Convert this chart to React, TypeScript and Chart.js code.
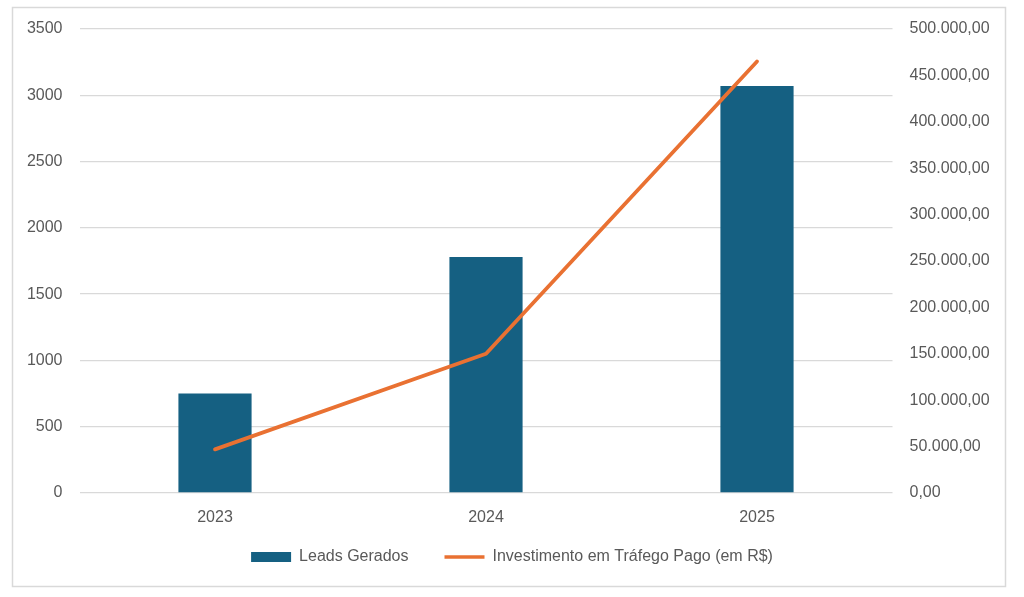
import React, { useEffect, useRef } from "react";
import { Chart, registerables } from "chart.js";

Chart.register(...registerables);

const categories = ["2023", "2024", "2025"];
const leadsGerados = [750, 1780, 3070];
const investimento = [47000, 150000, 465000];
const leftTicks = [0, 500, 1000, 1500, 2000, 2500, 3000, 3500];
const rightTicks = [0, 50000, 100000, 150000, 200000, 250000, 300000, 350000, 400000, 450000, 500000];

const BAR_COLOR = "#156082";
const LINE_COLOR = "#E97132";
const TEXT_COLOR = "#595959";
const GRID_COLOR = "#D9D9D9";
const FONT = "'Liberation Sans', Arial, sans-serif";
const LEGEND_PADDING = 36;
const LEGEND_CENTER_Y = 557;

function formatBR(v: number): string {
  const fixed = v.toFixed(2);
  const [intPart, dec] = fixed.split(".");
  const withDots = intPart.replace(/\B(?=(\d{3})+(?!\d))/g, ".");
  return withDots + "," + dec;
}

const borderPlugin = {
  id: "outerBorder",
  afterLayout(chart: any) {
    const lg = chart.legend;
    if (lg) {
      const h = lg.bottom - lg.top;
      lg.top = LEGEND_CENTER_Y - LEGEND_PADDING - 8;
      lg.bottom = lg.top + h;
    }
  },
  beforeDraw(chart: any) {
    const ctx = chart.ctx;
    ctx.save();
    ctx.fillStyle = "#ffffff";
    ctx.fillRect(0, 0, chart.width, chart.height);
    ctx.strokeStyle = GRID_COLOR;
    ctx.lineWidth = 1.5;
    ctx.strokeRect(12.5, 7.5, 993, 579);
    ctx.restore();
  },
};

export default function App() {
  const ref = useRef<HTMLCanvasElement | null>(null);

  useEffect(() => {
    document.body.style.margin = "0";
    if (!ref.current) return;
    const chart = new Chart(ref.current, {
      data: {
        labels: categories,
        datasets: [
          {
            type: "bar",
            label: "Leads Gerados",
            data: leadsGerados,
            backgroundColor: BAR_COLOR,
            yAxisID: "y",
            barPercentage: 0.27,
            categoryPercentage: 1,
            order: 2,
          },
          {
            type: "line",
            label: "Investimento em Tráfego Pago (em R$)",
            data: investimento,
            borderColor: LINE_COLOR,
            backgroundColor: LINE_COLOR,
            borderWidth: 3.8,
            borderCapStyle: "round",
            borderJoinStyle: "round",
            pointRadius: 0,
            tension: 0,
            yAxisID: "y1",
            order: 1,
          },
        ],
      } as any,
      options: {
        animation: false,
        responsive: false,
        maintainAspectRatio: false,
        layout: { padding: { left: 0, right: 0, top: 29, bottom: 8 } },
        plugins: {
          tooltip: { enabled: false },
          legend: {
            position: "bottom",
            maxHeight: 60,
            labels: {
              color: TEXT_COLOR,
              font: { family: FONT, size: 16 },
              usePointStyle: true,
              pointStyleWidth: 40,
              boxHeight: 10,
              padding: LEGEND_PADDING,
              generateLabels: () => [
                {
                  text: "Leads Gerados",
                  fillStyle: BAR_COLOR,
                  strokeStyle: BAR_COLOR,
                  lineWidth: 0,
                  pointStyle: "rect",
                  fontColor: TEXT_COLOR,
                  datasetIndex: 0,
                  hidden: false,
                },
                {
                  text: "Investimento em Tráfego Pago (em R$)",
                  fillStyle: LINE_COLOR,
                  strokeStyle: LINE_COLOR,
                  lineWidth: 3.5,
                  pointStyle: "line",
                  fontColor: TEXT_COLOR,
                  datasetIndex: 1,
                  hidden: false,
                },
              ] as any,
            },
          },
        },
        scales: {
          x: {
            grid: { display: false, drawTicks: false },
            border: { display: false },
            ticks: { color: TEXT_COLOR, font: { family: FONT, size: 16 }, padding: 15 },
            afterFit: (s: any) => {
              s.height = 36;
            },
          },
          y: {
            position: "left",
            min: 0,
            max: 3500,
            grid: { color: GRID_COLOR, lineWidth: 1.3, drawTicks: false },
            border: { display: false },
            afterBuildTicks: (s: any) => {
              s.ticks = leftTicks.map((v) => ({ value: v }));
            },
            ticks: {
              color: TEXT_COLOR,
              font: { family: FONT, size: 16 },
              padding: 17,
              callback: (v: any) => String(v),
            },
            afterFit: (s: any) => {
              s.width = 79.5;
            },
          },
          y1: {
            position: "right",
            min: 0,
            max: 500000,
            grid: { display: false, drawTicks: false },
            border: { display: false },
            afterBuildTicks: (s: any) => {
              s.ticks = rightTicks.map((v) => ({ value: v }));
            },
            ticks: {
              color: TEXT_COLOR,
              font: { family: FONT, size: 16 },
              padding: 17,
              callback: (v: any) => formatBR(Number(v)),
            },
            afterFit: (s: any) => {
              s.width = 131.5;
            },
          },
        },
      } as any,
      plugins: [borderPlugin],
    });
    return () => chart.destroy();
  }, []);

  return <canvas ref={ref} width={1024} height={597} style={{ display: "block", width: 1024, height: 597 }} />;
}
